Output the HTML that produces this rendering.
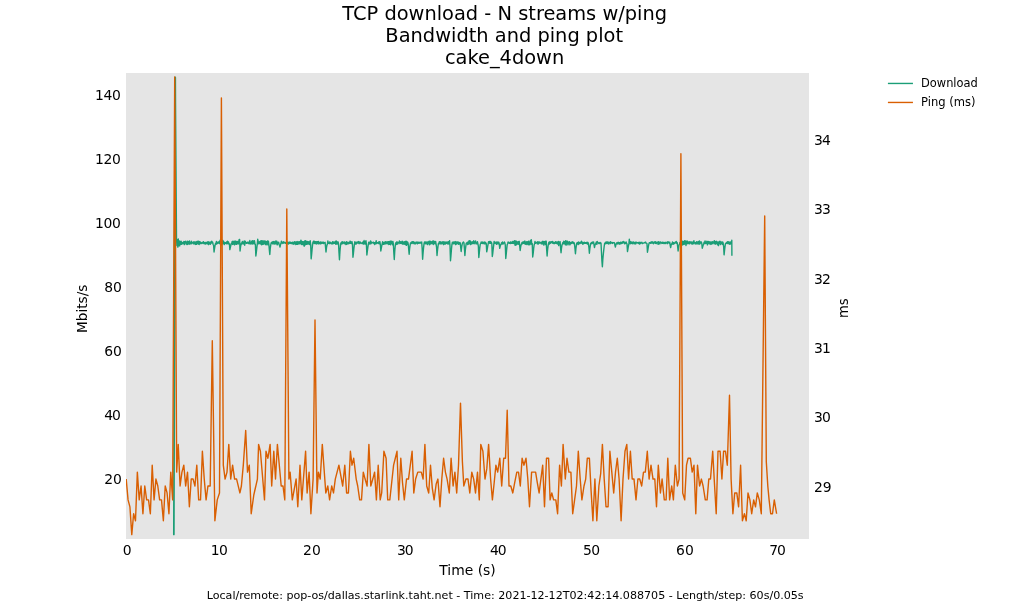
<!DOCTYPE html>
<html><head><meta charset="utf-8"><title>TCP download - N streams w/ping</title>
<style>
html,body{margin:0;padding:0;background:#fff;}
svg{display:block;font-family:"DejaVu Sans","Liberation Sans",sans-serif;fill:#000;}
.t{font-size:19.4px;text-anchor:middle;}
.k{font-size:13.9px;}
.l{font-size:13.9px;text-anchor:middle;}
.g{font-size:12.5px;}
.f{font-size:11.1px;text-anchor:middle;}
</style></head><body>
<svg width="1009" height="606" viewBox="0 0 1009 606">
<rect x="0" y="0" width="1009" height="606" fill="#ffffff"/>
<rect x="126.0" y="73.0" width="683.0" height="466.0" fill="#e5e5e5"/>
<clipPath id="c"><rect x="126.0" y="73.0" width="683.0" height="466.0"/></clipPath>
<g clip-path="url(#c)" fill="none" stroke-width="1.4" stroke-linejoin="round" stroke-linecap="butt">
<polyline stroke="#1b9e77" stroke-width="1.75" stroke-linecap="round" points="173.85,534.40 175.20,77.40"/>
<polyline stroke="#1b9e77" points="175.35,77.00 176.50,238.00 176.90,245.48 177.36,239.90 177.83,247.11 178.29,238.96 178.76,245.74 179.22,240.89 179.69,245.81 180.15,241.34 180.62,244.23 181.08,241.12 181.54,244.39 182.01,242.54 182.47,243.81 182.94,242.42 183.40,243.51 183.87,241.52 184.33,244.60 184.80,241.72 185.26,242.84 185.73,241.27 186.19,244.04 186.65,242.30 187.12,244.53 187.58,241.17 188.05,244.23 188.51,241.80 188.98,243.60 189.44,240.84 189.91,244.29 190.37,242.72 190.83,243.24 191.30,241.29 191.76,243.83 192.23,242.40 192.69,242.76 193.16,242.09 193.62,243.90 194.09,241.67 194.55,243.75 195.02,242.42 195.48,244.44 195.94,241.82 196.41,244.37 196.87,241.58 197.34,243.60 197.80,241.29 198.27,244.05 198.73,241.29 199.20,244.50 199.66,241.63 200.12,243.50 200.59,242.09 201.05,243.49 201.52,242.81 201.98,243.43 202.45,242.46 202.91,242.89 203.38,241.60 203.84,243.47 204.31,242.57 204.77,243.90 205.23,242.38 205.70,244.04 206.16,242.35 206.63,243.58 207.09,242.20 207.56,243.72 208.02,241.62 208.49,244.53 208.95,242.00 209.41,243.71 209.88,242.42 210.34,244.38 210.81,241.91 211.27,243.17 211.74,241.21 212.20,242.83 212.67,242.32 213.13,244.48 213.60,245.29 214.06,252.00 214.52,248.76 214.99,245.90 215.45,243.58 215.92,244.17 216.38,241.54 216.85,243.92 217.31,242.50 217.78,243.30 218.24,241.89 218.70,243.03 219.17,241.75 219.63,243.68 220.10,240.08 220.56,243.41 221.03,242.02 221.49,244.82 221.96,241.17 222.42,243.64 222.89,240.33 223.35,243.64 223.81,242.03 224.28,244.58 224.74,242.36 225.21,243.33 225.67,242.78 226.14,243.65 226.60,241.95 227.07,243.85 227.53,241.11 227.99,243.49 228.46,241.90 228.92,244.00 229.39,243.62 229.85,249.60 230.32,247.68 230.78,245.52 231.25,243.71 231.71,243.45 232.18,241.41 232.64,244.42 233.10,241.22 233.57,244.16 234.03,241.61 234.50,244.88 234.96,241.02 235.43,244.16 235.89,241.33 236.36,244.39 236.82,241.50 237.28,243.68 237.75,241.45 238.21,244.13 238.68,242.06 239.14,239.50 239.61,239.50 240.07,251.00 240.54,246.89 241.00,244.54 241.47,242.85 241.93,244.05 242.39,241.40 242.86,243.58 243.32,242.20 243.79,243.99 244.25,240.94 244.72,245.18 245.18,241.11 245.65,242.97 246.11,242.54 246.57,243.35 247.04,242.45 247.50,242.94 247.97,242.10 248.43,243.57 248.90,242.15 249.36,243.42 249.83,240.49 250.29,244.07 250.76,242.36 251.22,243.65 251.68,241.23 252.15,244.16 252.61,240.58 253.08,243.55 253.54,241.00 254.01,243.87 254.47,240.76 254.94,243.83 255.40,244.65 255.86,256.00 256.33,252.36 256.79,248.09 257.26,244.53 257.72,239.30 258.19,241.68 258.65,243.84 259.12,241.96 259.58,243.58 260.05,241.35 260.51,243.80 260.97,240.81 261.44,244.69 261.90,240.64 262.37,244.43 262.83,240.86 263.30,244.21 263.76,240.91 264.23,243.54 264.69,241.00 265.15,244.24 265.62,241.12 266.08,244.82 266.55,241.61 267.01,244.15 267.48,241.03 267.94,244.85 268.41,241.18 268.87,244.29 269.34,249.89 269.80,254.50 270.26,248.47 270.73,245.13 271.19,242.81 271.66,243.32 272.12,241.90 272.59,243.78 273.05,241.70 273.52,243.79 273.98,241.50 274.44,243.98 274.91,242.07 275.37,243.91 275.84,240.93 276.30,243.87 276.77,241.12 277.23,244.85 277.70,242.38 278.16,243.71 278.63,242.12 279.09,244.21 279.55,245.40 280.02,247.10 280.48,244.74 280.95,243.57 281.41,241.22 281.88,242.93 282.34,242.79 282.81,243.43 283.27,241.73 283.73,243.01 284.20,242.35 284.66,242.77 285.13,242.38 285.59,243.34 286.06,242.48 286.52,243.54 286.99,242.30 287.45,243.55 287.92,242.05 288.38,244.11 288.84,242.43 289.31,243.42 289.77,242.06 290.24,243.41 290.70,242.12 291.17,243.24 291.63,242.77 292.10,243.89 292.56,242.27 293.02,243.83 293.49,242.37 293.95,244.33 294.42,241.76 294.88,243.23 295.35,242.00 295.81,244.50 296.28,241.87 296.74,244.23 297.21,241.57 297.67,244.30 298.13,241.83 298.60,243.84 299.06,241.78 299.53,243.80 299.99,241.73 300.46,243.58 300.92,240.10 301.39,244.43 301.85,241.47 302.31,244.28 302.78,241.72 303.24,244.83 303.71,241.60 304.17,246.30 304.64,240.93 305.10,244.94 305.57,240.76 306.03,244.29 306.50,241.32 306.96,244.27 307.42,241.37 307.89,243.77 308.35,241.61 308.82,244.10 309.28,242.05 309.75,244.66 310.21,240.73 310.68,244.50 311.14,258.80 311.60,254.73 312.07,249.49 312.53,245.11 313.00,241.88 313.46,243.14 313.93,241.01 314.39,243.54 314.86,241.71 315.32,243.21 315.79,241.74 316.25,244.14 316.71,241.71 317.18,243.27 317.64,241.73 318.11,243.77 318.57,241.51 319.04,243.79 319.50,242.70 319.97,243.59 320.43,242.03 320.89,243.93 321.36,242.29 321.82,243.31 322.29,242.30 322.75,243.33 323.22,242.07 323.68,243.47 324.15,242.66 324.61,243.07 325.08,242.34 325.54,247.12 326.00,252.00 326.47,247.83 326.93,245.11 327.40,244.16 327.86,240.95 328.33,243.35 328.79,242.95 329.26,243.62 329.72,241.92 330.18,243.46 330.65,242.49 331.11,242.99 331.58,243.16 332.04,244.12 332.51,241.80 332.97,243.58 333.44,242.02 333.90,243.44 334.37,242.24 334.83,243.28 335.29,241.51 335.76,244.20 336.22,240.93 336.69,243.94 337.15,241.85 337.62,243.96 338.08,241.82 338.55,243.89 339.01,252.59 339.47,259.80 339.94,251.40 340.40,246.44 340.87,242.90 341.33,244.05 341.80,241.88 342.26,243.83 342.73,241.77 343.19,243.09 343.66,242.51 344.12,243.64 344.58,241.87 345.05,243.81 345.51,242.65 345.98,244.54 346.44,241.64 346.91,244.21 347.37,242.16 347.84,243.73 348.30,242.49 348.76,243.81 349.23,242.34 349.69,243.19 350.16,241.06 350.62,243.31 351.09,241.94 351.55,243.59 352.02,241.75 352.48,244.43 352.95,257.20 353.41,253.46 353.87,248.76 354.34,244.84 354.80,241.83 355.27,244.12 355.73,242.12 356.20,244.02 356.66,242.14 357.13,242.92 357.59,241.97 358.05,243.15 358.52,241.57 358.98,243.63 359.45,241.89 359.91,243.65 360.38,242.05 360.84,243.12 361.31,243.05 361.77,243.41 362.24,242.83 362.70,243.72 363.16,241.65 363.63,244.07 364.09,240.51 364.56,243.72 365.02,241.70 365.49,244.11 365.95,240.61 366.42,244.77 366.88,255.00 367.34,251.48 367.81,247.56 368.27,244.57 368.74,242.20 369.20,244.09 369.67,242.16 370.13,243.91 370.60,240.91 371.06,243.68 371.53,242.14 371.99,242.81 372.45,242.55 372.92,242.69 373.38,242.15 373.85,243.61 374.31,242.65 374.78,244.64 375.24,242.58 375.71,243.59 376.17,240.80 376.63,243.61 377.10,242.54 377.56,243.00 378.03,242.60 378.49,243.44 378.96,241.62 379.42,243.84 379.89,241.74 380.35,244.50 380.82,251.00 381.28,248.35 381.74,245.78 382.21,243.66 382.67,241.66 383.14,244.41 383.60,242.63 384.07,244.21 384.53,242.20 385.00,243.80 385.46,241.71 385.92,243.84 386.39,241.84 386.85,243.44 387.32,241.80 387.78,243.84 388.25,241.62 388.71,244.46 389.18,241.45 389.64,244.33 390.11,241.51 390.57,244.77 391.03,240.93 391.50,243.40 391.96,241.92 392.43,244.70 392.89,241.42 393.36,244.12 393.82,252.68 394.29,259.50 394.75,251.12 395.21,246.27 395.68,242.86 396.14,244.51 396.61,241.94 397.07,244.36 397.54,242.07 398.00,243.75 398.47,242.49 398.93,242.47 399.40,240.97 399.86,243.53 400.32,241.60 400.79,243.23 401.25,241.87 401.72,243.65 402.18,241.23 402.65,244.05 403.11,242.47 403.58,244.12 404.04,241.66 404.50,244.17 404.97,241.68 405.43,244.52 405.90,241.08 406.36,245.37 406.83,241.52 407.29,244.44 407.76,242.18 408.22,244.16 408.69,248.91 409.15,254.20 409.61,248.71 410.08,245.38 410.54,242.94 411.01,243.19 411.47,242.07 411.94,243.62 412.40,241.65 412.87,243.06 413.33,241.60 413.79,243.62 414.26,242.10 414.72,243.90 415.19,242.87 415.65,243.85 416.12,241.91 416.58,243.02 417.05,242.34 417.51,243.77 417.98,242.07 418.44,243.28 418.90,242.34 419.37,243.25 419.83,242.34 420.30,242.99 420.76,242.23 421.23,243.31 421.69,242.00 422.16,248.69 422.62,259.20 423.08,252.87 423.55,247.80 424.01,243.94 424.48,241.90 424.94,243.49 425.41,241.85 425.87,243.83 426.34,242.08 426.80,243.87 427.27,241.95 427.73,244.60 428.19,241.95 428.66,243.19 429.12,241.23 429.59,244.78 430.05,241.27 430.52,243.93 430.98,241.57 431.45,243.62 431.91,241.83 432.37,243.46 432.84,241.06 433.30,244.47 433.77,241.04 434.23,243.57 434.70,241.79 435.16,243.74 435.63,241.43 436.09,244.08 436.56,247.33 437.02,255.50 437.48,250.56 437.95,246.65 438.41,243.56 438.88,243.61 439.34,241.59 439.81,243.75 440.27,241.80 440.74,243.72 441.20,242.31 441.66,243.76 442.13,242.03 442.59,243.44 443.06,241.77 443.52,244.66 443.99,242.05 444.45,244.11 444.92,242.01 445.38,244.14 445.85,242.19 446.31,243.20 446.77,242.08 447.24,243.66 447.70,241.90 448.17,244.06 448.63,241.65 449.10,243.88 449.56,240.61 450.03,245.99 450.49,260.80 450.95,255.57 451.42,249.76 451.88,244.95 452.35,242.32 452.81,243.67 453.28,241.94 453.74,243.91 454.21,242.12 454.67,243.63 455.14,241.58 455.60,244.60 456.06,241.79 456.53,244.08 456.99,242.43 457.46,243.31 457.92,241.65 458.39,244.30 458.85,242.60 459.32,244.08 459.78,242.37 460.24,242.93 460.71,247.71 461.17,251.50 461.64,247.13 462.10,244.64 462.57,242.85 463.03,242.50 463.50,242.01 463.96,242.82 464.43,248.57 464.89,255.50 465.35,249.93 465.82,246.12 466.28,243.21 466.75,243.32 467.21,242.45 467.68,244.59 468.14,242.08 468.61,244.06 469.07,240.80 469.53,243.62 470.00,240.64 470.46,244.54 470.93,241.79 471.39,244.15 471.86,242.32 472.32,243.70 472.79,241.71 473.25,243.31 473.72,240.81 474.18,243.85 474.64,241.98 475.11,242.84 475.57,240.95 476.04,243.83 476.50,242.95 476.97,243.88 477.43,241.67 477.90,243.86 478.36,246.10 478.82,257.50 479.29,252.82 479.75,248.14 480.22,244.30 480.68,243.62 481.15,242.09 481.61,243.28 482.08,241.90 482.54,243.44 483.01,242.28 483.47,243.51 483.93,242.17 484.40,243.84 484.86,241.91 485.33,243.88 485.79,242.75 486.26,243.51 486.72,251.80 487.19,249.53 487.65,246.62 488.11,244.17 488.58,241.59 489.04,243.01 489.51,241.45 489.97,243.33 490.44,241.35 490.90,243.40 491.37,242.26 491.83,243.79 492.30,256.50 492.76,253.44 493.22,248.92 493.69,245.09 494.15,241.44 494.62,243.22 495.08,242.90 495.55,243.32 496.01,241.96 496.48,244.34 496.94,242.26 497.40,243.77 497.87,241.93 498.33,243.77 498.80,242.16 499.26,244.01 499.73,248.30 500.19,246.41 500.66,244.72 501.12,244.04 501.59,242.66 502.05,243.96 502.51,241.86 502.98,244.13 503.44,243.09 503.91,242.97 504.37,241.98 504.84,242.89 505.30,245.03 505.77,258.50 506.23,254.20 506.69,249.11 507.16,244.86 507.62,243.64 508.09,241.97 508.55,242.99 509.02,242.32 509.48,243.37 509.95,242.88 510.41,243.53 510.88,241.62 511.34,243.27 511.80,242.77 512.27,243.35 512.73,241.47 513.20,243.27 513.66,241.41 514.13,243.49 514.59,240.72 515.06,245.30 515.52,241.06 515.98,245.06 516.45,241.16 516.91,244.19 517.38,241.87 517.84,243.93 518.31,241.80 518.77,244.41 519.24,241.33 519.70,245.98 520.17,250.50 520.63,247.19 521.09,244.89 521.56,243.76 522.02,242.38 522.49,243.74 522.95,241.85 523.42,243.34 523.88,241.79 524.35,243.45 524.81,241.06 525.27,244.17 525.74,242.13 526.20,244.44 526.67,241.79 527.13,244.06 527.60,241.82 528.06,244.56 528.53,241.15 528.99,244.90 529.46,242.16 529.92,244.59 530.38,240.55 530.85,243.84 531.31,239.81 531.78,244.37 532.24,243.64 532.71,257.00 533.17,253.72 533.64,249.04 534.10,245.09 534.56,243.76 535.03,241.39 535.49,243.37 535.96,242.63 536.42,242.71 536.89,242.28 537.35,243.79 537.82,241.66 538.28,244.06 538.75,242.07 539.21,243.31 539.67,241.85 540.14,242.53 540.60,242.63 541.07,243.63 541.53,242.27 542.00,244.05 542.46,241.33 542.93,243.83 543.39,241.36 543.85,245.07 544.32,241.60 544.78,243.73 545.25,241.28 545.71,244.64 546.18,241.11 546.64,249.10 547.11,256.00 547.57,250.07 548.04,246.13 548.50,243.75 548.96,242.13 549.43,244.00 549.89,241.79 550.36,243.34 550.82,241.95 551.29,242.59 551.75,241.68 552.22,243.05 552.68,241.51 553.14,243.21 553.61,242.53 554.07,243.80 554.54,242.46 555.00,243.20 555.47,241.72 555.93,243.23 556.40,241.88 556.86,243.60 557.33,242.11 557.79,244.05 558.25,241.37 558.72,245.55 559.18,241.91 559.65,243.46 560.11,241.74 560.58,248.02 561.04,252.80 561.51,248.02 561.97,245.10 562.43,243.88 562.90,242.58 563.36,243.89 563.83,241.12 564.29,243.50 564.76,241.81 565.22,244.51 565.69,240.65 566.15,245.16 566.62,241.22 567.08,243.72 567.54,241.27 568.01,244.85 568.47,242.13 568.94,243.41 569.40,241.72 569.87,244.87 570.33,242.42 570.80,243.89 571.26,242.47 571.72,243.37 572.19,241.68 572.65,243.01 573.12,242.02 573.58,243.55 574.05,242.66 574.51,244.23 574.98,248.56 575.44,253.80 575.91,248.57 576.37,245.34 576.83,242.97 577.30,243.78 577.76,242.39 578.23,244.54 578.69,241.89 579.16,243.85 579.62,242.69 580.09,243.44 580.55,242.30 581.01,242.95 581.48,241.28 581.94,243.17 582.41,242.38 582.87,244.26 583.34,242.55 583.80,243.57 584.27,242.13 584.73,243.40 585.20,242.64 585.66,243.38 586.12,242.55 586.59,243.53 587.05,242.17 587.52,244.07 587.98,242.48 588.45,243.54 588.91,247.29 589.38,253.20 589.84,248.71 590.30,245.59 590.77,243.19 591.23,243.81 591.70,242.53 592.16,243.50 592.63,242.06 593.09,243.06 593.56,241.96 594.02,244.86 594.49,247.60 594.95,245.40 595.41,244.02 595.88,243.44 596.34,242.08 596.81,244.30 597.27,241.48 597.74,242.63 598.20,242.69 598.67,243.43 599.13,242.88 599.59,243.53 600.06,242.39 600.52,243.38 600.99,243.04 601.45,251.71 601.92,260.84 602.38,266.70 602.85,259.07 603.31,254.23 603.78,249.83 604.24,246.01 604.70,243.12 605.17,243.69 605.63,242.12 606.10,243.66 606.56,241.97 607.03,243.30 607.49,241.85 607.96,243.63 608.42,242.16 608.88,244.01 609.35,242.84 609.81,243.08 610.28,241.62 610.74,243.52 611.21,242.35 611.67,242.74 612.14,242.46 612.60,243.45 613.07,242.67 613.53,242.70 613.99,242.54 614.46,242.86 614.92,245.22 615.39,247.10 615.85,244.82 616.32,243.64 616.78,242.81 617.25,244.00 617.71,242.52 618.18,243.37 618.64,242.28 619.10,244.20 619.57,242.72 620.03,243.74 620.50,242.27 620.96,243.76 621.43,242.47 621.89,243.16 622.36,241.92 622.82,243.19 623.28,241.52 623.75,242.34 624.21,241.98 624.68,243.70 625.14,242.77 625.61,243.50 626.07,241.86 626.54,243.05 627.00,244.01 627.47,251.50 627.93,249.02 628.39,246.24 628.86,243.93 629.32,239.30 629.79,242.39 630.25,243.82 630.72,241.60 631.18,243.28 631.65,242.14 632.11,243.54 632.57,242.19 633.04,243.75 633.50,242.00 633.97,243.13 634.43,242.60 634.90,243.97 635.36,242.10 635.83,243.81 636.29,242.28 636.76,242.77 637.22,242.61 637.68,243.11 638.15,242.42 638.61,243.44 639.08,242.48 639.54,243.98 640.01,242.20 640.47,243.55 640.94,242.77 641.40,242.66 641.86,242.17 642.33,243.65 642.79,243.24 643.26,243.11 643.72,242.98 644.19,242.90 644.65,242.47 645.12,242.75 645.58,242.11 646.05,243.12 646.51,243.14 646.97,243.76 647.44,252.20 647.90,249.73 648.37,246.69 648.83,244.15 649.30,242.66 649.76,243.13 650.23,242.48 650.69,243.38 651.15,241.91 651.62,243.04 652.08,241.66 652.55,242.91 653.01,242.21 653.48,243.68 653.94,242.10 654.41,242.69 654.87,241.81 655.34,243.35 655.80,241.59 656.26,243.65 656.73,242.80 657.19,242.74 657.66,242.10 658.12,244.41 658.59,241.72 659.05,243.78 659.52,242.31 659.98,243.89 660.44,241.94 660.91,242.41 661.37,242.67 661.84,243.50 662.30,242.12 662.77,243.21 663.23,242.31 663.70,243.48 664.16,242.84 664.63,243.43 665.09,242.21 665.55,243.50 666.02,242.86 666.48,242.84 666.95,242.18 667.41,243.70 667.88,241.65 668.34,242.75 668.81,242.11 669.27,243.19 669.73,242.19 670.20,245.37 670.66,247.60 671.13,245.15 671.59,243.81 672.06,243.80 672.52,241.99 672.99,244.24 673.45,242.79 673.92,243.96 674.38,242.87 674.84,243.23 675.31,242.03 675.77,242.64 676.24,241.42 676.70,243.37 677.17,242.51 677.63,246.54 678.10,251.00 678.56,247.31 679.02,244.89 679.49,244.28 679.95,242.54 680.42,243.77 680.88,241.47 681.35,243.44 681.81,241.87 682.28,244.95 682.74,241.25 683.21,244.51 683.67,241.71 684.13,244.33 684.60,240.71 685.06,243.91 685.53,240.91 685.99,245.49 686.46,241.21 686.92,243.75 687.39,241.08 687.85,243.58 688.31,242.21 688.78,243.65 689.24,241.71 689.71,243.83 690.17,242.03 690.64,242.68 691.10,241.83 691.57,243.80 692.03,242.22 692.50,244.05 692.96,242.05 693.42,243.74 693.89,240.75 694.35,243.10 694.82,242.45 695.28,243.95 695.75,242.39 696.21,243.72 696.68,241.76 697.14,243.88 697.60,242.02 698.07,243.74 698.53,241.57 699.00,244.14 699.46,240.86 699.93,243.96 700.39,242.02 700.86,242.98 701.32,241.93 701.79,243.47 702.25,248.30 702.71,246.71 703.18,244.99 703.64,244.51 704.11,242.17 704.57,243.18 705.04,240.95 705.50,243.61 705.97,242.28 706.43,243.26 706.89,241.19 707.36,244.80 707.82,241.65 708.29,243.56 708.75,241.48 709.22,243.76 709.68,241.86 710.15,243.96 710.61,241.84 711.08,244.43 711.54,242.00 712.00,243.44 712.47,241.65 712.93,243.79 713.40,241.97 713.86,242.65 714.33,240.79 714.79,243.89 715.26,241.72 715.72,244.18 716.18,241.15 716.65,243.41 717.11,242.03 717.58,244.75 718.04,241.94 718.51,245.60 718.97,241.88 719.44,243.23 719.90,241.09 720.37,244.53 720.83,241.87 721.29,243.34 721.76,242.06 722.22,244.42 722.69,241.94 723.15,243.10 723.62,246.42 724.08,254.80 724.55,250.45 725.01,246.72 725.47,243.72 725.94,243.13 726.40,242.67 726.87,243.49 727.33,241.76 727.80,243.57 728.26,241.69 728.73,243.67 729.19,242.14 729.66,244.21 730.12,241.96 730.58,243.95 731.05,241.99 731.51,243.03 731.80,240.30 731.90,255.70"/>
<polyline stroke="#d95f02" points="126.20,479.06 128.06,499.88 129.92,506.82 131.77,534.58 133.63,513.76 135.49,520.70 137.35,472.12 139.21,499.88 141.06,486.00 142.92,513.76 144.78,486.00 146.64,499.88 148.50,499.88 150.35,513.76 152.21,465.18 154.07,499.88 155.93,479.06 157.79,486.00 159.64,499.88 161.50,499.88 163.36,520.70 165.22,486.00 167.08,492.94 168.93,513.76 170.79,472.12 172.65,499.88 174.70,77.00 176.67,472.12 178.22,444.36 180.08,486.00 181.94,472.12 183.80,465.18 185.66,486.00 187.51,472.12 189.37,506.82 191.23,479.06 193.09,479.06 194.95,486.00 196.80,465.18 198.66,499.88 200.52,499.88 202.38,451.30 204.24,479.06 206.09,499.88 207.95,486.00 210.20,486.00 212.30,340.80 214.88,520.70 217.24,499.88 219.50,492.94 221.40,97.85 223.30,465.18 225.10,479.06 227.00,472.12 228.80,444.36 230.70,479.06 232.60,465.18 234.60,479.06 236.60,479.06 239.90,492.94 241.40,486.00 243.30,465.18 245.70,430.48 247.50,472.12 249.30,465.18 251.20,513.76 253.80,495.02 257.40,479.06 258.60,444.36 260.40,451.30 264.50,499.88 266.00,451.30 267.90,458.24 270.10,444.36 271.70,486.00 273.80,451.30 275.50,479.06 277.40,444.36 281.20,486.00 283.00,486.00 284.80,499.88 286.80,208.90 288.90,479.06 290.10,472.12 292.30,499.88 296.10,479.06 297.80,506.82 300.00,465.18 301.80,499.88 305.60,451.30 307.10,492.94 309.10,472.12 310.90,513.76 313.10,479.06 315.00,320.00 317.00,492.94 318.40,472.12 320.20,479.06 322.30,444.36 325.80,492.94 327.80,486.00 329.60,499.88 331.70,486.00 333.50,492.94 335.30,479.06 338.90,465.18 342.70,486.00 344.80,465.18 346.60,492.94 348.40,492.94 350.40,451.30 352.00,465.18 353.70,458.24 356.20,479.06 357.70,486.00 359.70,499.88 361.50,499.88 363.30,472.12 365.10,479.06 367.10,486.00 368.90,444.36 370.80,486.00 372.80,479.06 374.60,472.12 376.40,499.88 378.20,465.18 380.20,499.88 381.70,492.94 383.90,451.30 386.10,458.24 387.70,499.88 389.80,499.88 391.70,482.53 393.60,465.18 395.30,458.24 397.00,451.30 398.70,499.88 400.80,458.24 402.50,482.53 404.30,499.88 406.50,479.06 408.50,479.06 410.30,465.18 412.10,451.30 413.80,492.94 415.60,479.06 417.80,472.12 421.30,472.12 423.10,479.06 424.90,444.36 426.70,486.00 428.70,492.94 430.50,465.18 432.30,488.08 434.10,499.88 436.20,483.92 437.90,479.06 440.00,506.82 441.80,479.06 443.60,458.24 445.40,472.12 447.10,479.06 449.30,492.94 451.10,458.24 453.10,486.00 454.90,472.12 456.70,492.94 458.50,465.18 460.50,403.10 462.40,461.71 463.80,486.00 465.90,479.06 468.00,479.06 469.80,492.94 471.80,472.12 473.70,479.06 475.50,492.94 477.50,472.12 479.30,499.88 480.80,444.36 482.90,451.30 485.00,479.06 486.80,468.65 488.60,444.36 490.60,479.06 492.40,499.88 494.20,482.53 495.90,465.18 497.70,472.12 499.80,458.24 501.70,486.00 503.70,458.24 505.50,458.24 507.20,410.30 509.00,486.00 510.80,486.00 512.80,492.94 514.70,482.53 516.80,472.12 518.50,472.12 520.30,486.00 522.10,458.24 523.90,465.18 526.00,458.24 527.80,479.06 529.50,506.82 531.60,472.12 535.60,472.12 537.30,482.53 539.10,492.94 540.90,479.06 542.70,465.18 544.50,506.82 546.50,458.24 548.60,458.24 550.10,499.88 551.80,492.94 553.60,499.88 555.80,499.88 557.60,513.76 559.60,465.18 561.40,486.00 563.10,444.36 565.30,479.06 567.00,458.24 568.90,472.12 570.90,472.12 572.70,513.76 574.60,499.88 576.50,486.00 578.30,451.30 580.20,479.06 581.90,499.88 584.00,486.00 585.70,479.06 587.30,458.24 589.40,458.24 591.10,490.86 592.90,520.70 594.90,479.06 596.80,520.70 598.90,486.00 600.70,473.51 602.40,444.36 604.20,479.06 606.00,506.82 608.10,506.82 609.90,451.30 611.80,472.12 613.70,492.94 615.50,472.12 617.30,458.24 619.10,479.06 621.10,520.70 623.00,479.06 625.00,451.30 626.80,444.36 628.60,479.06 630.40,451.30 632.20,479.06 634.00,479.06 636.00,499.88 637.90,479.06 639.70,479.06 641.70,486.00 643.50,472.12 645.30,472.12 647.30,451.30 649.10,479.06 651.00,465.18 653.00,479.06 654.80,479.06 656.50,506.82 658.30,465.18 660.40,492.94 662.10,479.06 664.30,499.88 666.10,499.88 667.80,458.24 669.60,499.88 671.70,486.00 673.40,499.88 675.30,465.18 677.40,486.00 679.10,479.06 680.90,153.70 682.70,492.94 684.70,499.88 686.50,465.18 688.10,458.24 690.40,458.24 692.20,472.12 694.00,465.18 695.80,513.76 697.50,465.18 699.60,486.00 701.40,479.06 703.10,486.00 705.30,499.88 707.10,499.88 708.80,479.06 710.50,479.06 712.70,451.30 714.40,482.53 716.20,513.76 718.00,451.30 720.10,451.30 721.90,479.06 723.60,451.30 725.50,451.30 727.30,465.18 729.50,395.30 731.10,479.06 732.90,513.76 734.70,492.94 736.80,492.94 738.60,506.82 740.60,465.18 742.40,520.70 744.40,513.76 746.20,520.70 748.00,492.94 749.90,499.88 751.70,513.76 753.70,499.88 755.50,506.82 757.30,492.94 759.30,499.88 761.30,513.76 764.70,216.00 766.30,461.71 767.80,486.00 769.10,499.88 770.70,513.76 772.50,513.76 774.30,499.88 776.60,513.76"/>
</g>
<text class="t" x="504.7" y="20">TCP download - N streams w/ping</text>
<text class="t" x="504.2" y="42">Bandwidth and ping plot</text>
<text class="t" x="504.6" y="64">cake_4down</text>
<text class="k" text-anchor="end" x="121.88" y="484.20">20</text>
<text class="k" text-anchor="end" x="121.88" y="356.20">60</text>
<text class="k" text-anchor="end" x="121.88" y="292.20">80</text>
<text class="k" text-anchor="end" x="120.88" y="420.20" textLength="16.69" lengthAdjust="spacing">40</text>
<text class="k" text-anchor="end" x="120.90" y="228.20" textLength="25.93" lengthAdjust="spacing">100</text>
<text class="k" text-anchor="end" x="120.90" y="164.20" textLength="25.93" lengthAdjust="spacing">120</text>
<text class="k" text-anchor="end" x="120.90" y="100.20" textLength="25.93" lengthAdjust="spacing">140</text>
<text class="k" text-anchor="start" x="814.00" y="492.20">29</text>
<text class="k" text-anchor="start" x="814.00" y="421.70" textLength="16.84" lengthAdjust="spacing">30</text>
<text class="k" text-anchor="start" x="814.00" y="353.40" textLength="16.84" lengthAdjust="spacing">31</text>
<text class="k" text-anchor="start" x="814.00" y="284.00" textLength="16.84" lengthAdjust="spacing">32</text>
<text class="k" text-anchor="start" x="814.00" y="213.50" textLength="16.84" lengthAdjust="spacing">33</text>
<text class="k" text-anchor="start" x="814.00" y="145.20" textLength="16.84" lengthAdjust="spacing">34</text>
<text class="k" text-anchor="end" x="131.62" y="555.00">0</text>
<text class="k" text-anchor="end" x="227.84" y="555.00" textLength="17.09" lengthAdjust="spacing">10</text>
<text class="k" text-anchor="end" x="320.74" y="555.00">20</text>
<text class="k" text-anchor="end" x="413.64" y="555.00" textLength="16.69" lengthAdjust="spacing">30</text>
<text class="k" text-anchor="end" x="506.54" y="555.00" textLength="16.49" lengthAdjust="spacing">40</text>
<text class="k" text-anchor="end" x="600.10" y="555.00" textLength="17.04" lengthAdjust="spacing">50</text>
<text class="k" text-anchor="end" x="693.75" y="555.00">60</text>
<text class="k" text-anchor="end" x="785.75" y="555.00" textLength="16.62" lengthAdjust="spacing">70</text>
<text class="l" x="467.5" y="575">Time (s)</text>
<text class="l" transform="translate(86.7,308.8) rotate(-90)" textLength="48.2" lengthAdjust="spacingAndGlyphs">Mbits/s</text>
<text class="l" transform="translate(848,308.2) rotate(-90)" textLength="19.6" lengthAdjust="spacingAndGlyphs">ms</text>
<line x1="887.9" y1="83.45" x2="912.95" y2="83.45" stroke="#1b9e77" stroke-width="1.4"/>
<line x1="887.9" y1="102.45" x2="912.95" y2="102.45" stroke="#d95f02" stroke-width="1.4"/>
<text class="g" x="921" y="87" textLength="56.8" lengthAdjust="spacingAndGlyphs">Download</text>
<text class="g" x="921" y="106" textLength="54.5" lengthAdjust="spacingAndGlyphs">Ping (ms)</text>
<text class="f" x="505.2" y="599">Local/remote: pop-os/dallas.starlink.taht.net - Time: 2021-12-12T02:42:14.088705 - Length/step: 60s/0.05s</text>
</svg>
</body></html>
